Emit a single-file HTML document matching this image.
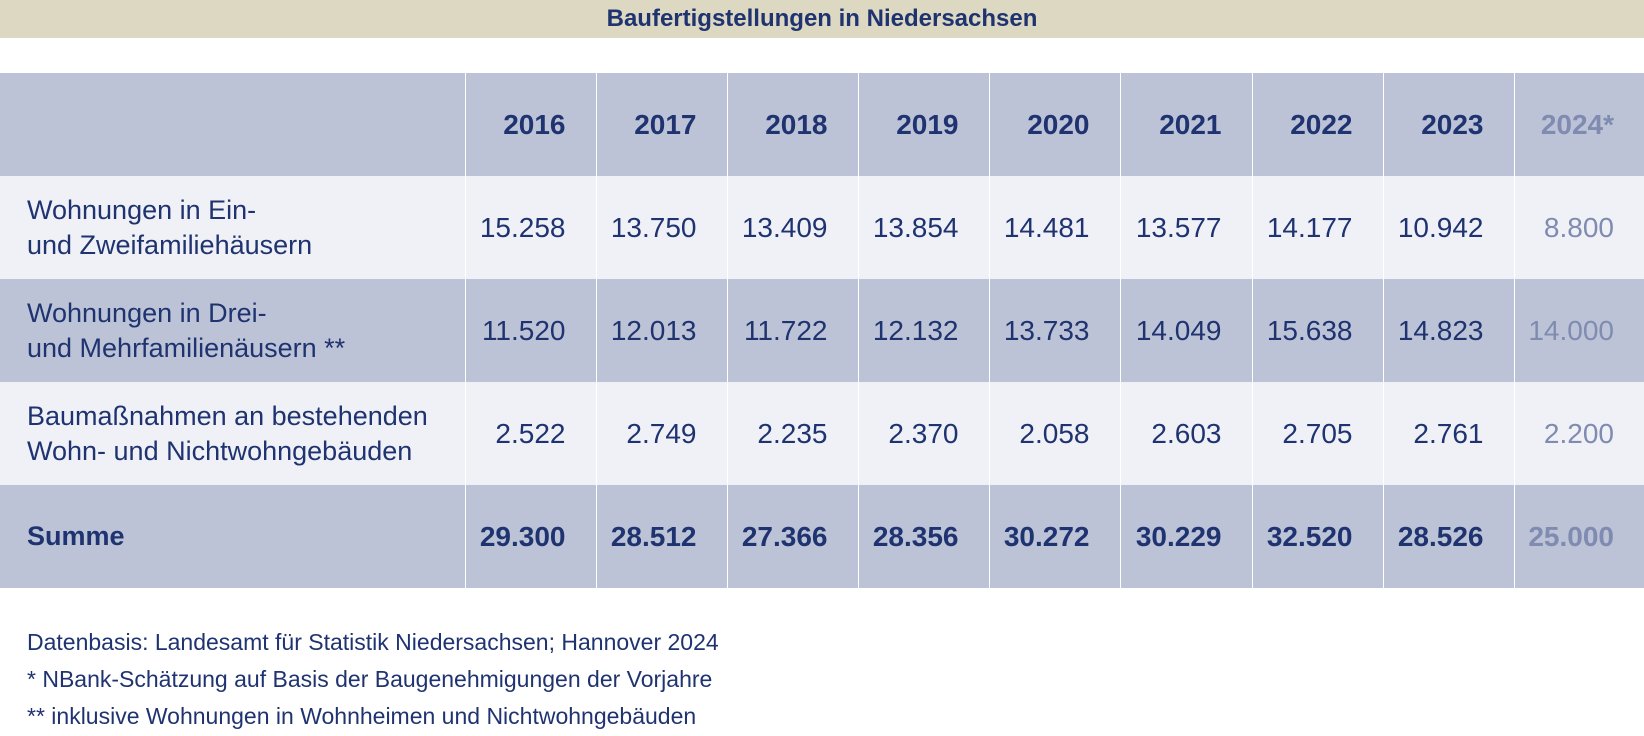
<!DOCTYPE html>
<html><head><meta charset="utf-8"><style>
body{margin:0;width:1644px;height:736px;background:#fff;font-family:"Liberation Sans",Arial,sans-serif;color:#1f3370;position:relative;overflow:hidden}
#title{position:absolute;left:0;top:0;width:1644px;height:38px;background:#ddd8c1;text-align:center;font-weight:bold;font-size:24px;line-height:38px}
table{position:absolute;left:0;top:73px;border-collapse:collapse;table-layout:fixed}
td{padding:0 30px 0 0;text-align:right;font-size:28px;border-left:1px solid #fff;height:103px}
td.lab{text-align:left;padding-left:27px;font-size:27px;line-height:35px;border-left:none}
tr.dark td{background:#bcc3d6}
tr.light td{background:#eff1f6}
tr.hdr td,tr.sum td{font-weight:bold}
td.est{color:#7f8bb0}
.foot{position:absolute;left:27px;font-size:23px;line-height:28px}
</style></head><body>
<div id="title">Baufertigstellungen in Niedersachsen</div>
<table id="tbl">
<colgroup><col style="width:465px"><col style="width:131px"><col style="width:131px"><col style="width:131px"><col style="width:131px"><col style="width:131px"><col style="width:132px"><col style="width:131px"><col style="width:131px"><col style="width:130px"></colgroup>
<tbody id="tb"></tbody></table>
<div class="foot" style="top:628px">Datenbasis: Landesamt für Statistik Niedersachsen; Hannover 2024</div>
<div class="foot" style="top:665px">* NBank-Schätzung auf Basis der Baugenehmigungen der Vorjahre</div>
<div class="foot" style="top:702px">** inklusive Wohnungen in Wohnheimen und Nichtwohngebäuden</div>
<script>
const years=["2016","2017","2018","2019","2020","2021","2022","2023","2024*"];
const rowLabels=["Wohnungen in Ein-<br>und Zweifamiliehäusern","Wohnungen in Drei-<br>und Mehrfamilienäusern **","Baumaßnahmen an bestehenden<br>Wohn- und Nichtwohngebäuden","Summe"];
const ein=["15.258","13.750","13.409","13.854","14.481","13.577","14.177","10.942","8.800"];
const mehr=["11.520","12.013","11.722","12.132","13.733","14.049","15.638","14.823","14.000"];
const bau=["2.522","2.749","2.235","2.370","2.058","2.603","2.705","2.761","2.200"];
const summe=["29.300","28.512","27.366","28.356","30.272","30.229","32.520","28.526","25.000"];
const tb=document.getElementById('tb');
function mkRow(cls,label,vals,name){
  const tr=document.createElement('tr');tr.className=cls;
  
  
  const l=document.createElement('td');l.className='lab';l.innerHTML=label;
  
  
  tr.appendChild(l);
  vals.forEach((v,i)=>{const td=document.createElement('td');td.textContent=v;
    if(i===vals.length-1)td.classList.add('est');
    
    
    tr.appendChild(td);});
  tb.appendChild(tr);
}
mkRow('dark hdr','',years,'header-row');
mkRow('light',rowLabels[0],ein,'row-ein-zweifamilie');
mkRow('dark',rowLabels[1],mehr,'row-mehrfamilie');
mkRow('light',rowLabels[2],bau,'row-baumassnahmen');
mkRow('dark sum',rowLabels[3],summe,'row-summe');
</script>
</body></html>
